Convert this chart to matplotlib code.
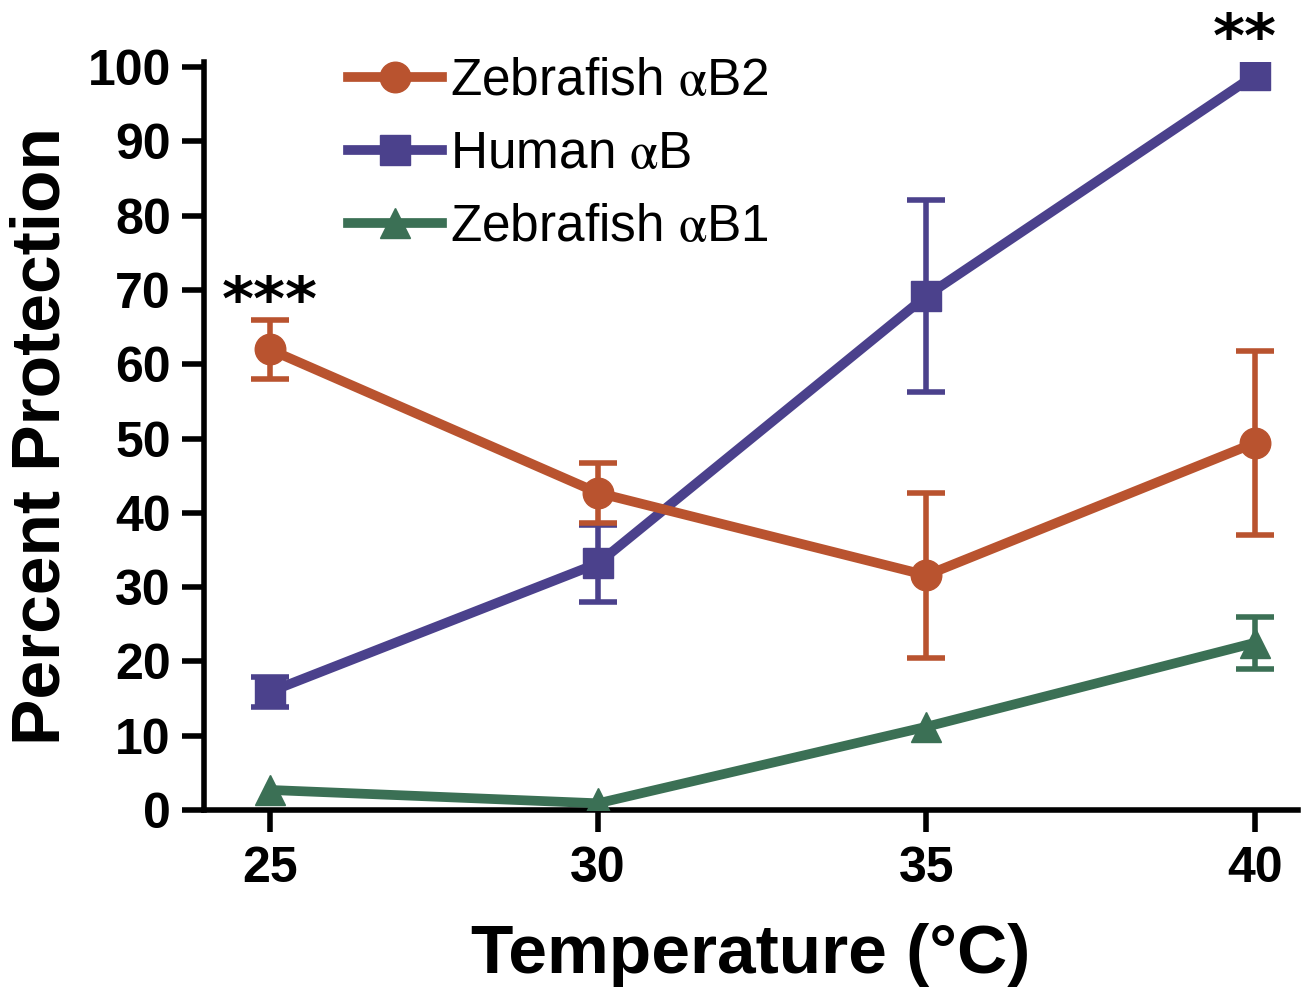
import numpy as np
import matplotlib.pyplot as plt
from matplotlib.lines import Line2D

plt.rcParams['font.family'] = ['Liberation Sans', 'DejaVu Sans']
plt.rcParams['mathtext.fontset'] = 'stix'

temp = [25, 30, 35, 40]

zf_b2 = [62.0, 42.7, 31.6, 49.4]
zf_b2_err = [4.0, 4.0, 11.1, 12.4]

human_b = [15.9, 33.2, 69.2, 98.9]
human_b_err = [2.0, 5.2, 12.9, np.nan]

zf_b1 = [2.7, 0.9, 11.2, 22.5]
zf_b1_err = [np.nan, np.nan, np.nan, 3.5]

c_b2 = '#b9532f'
c_hum = '#4b418c'
c_b1 = '#3b7055'

fig = plt.figure(figsize=(13.15, 9.9), dpi=100)
ax = fig.add_axes([204/1315, 180/990, (1298-204)/1315, (810-62)/990])

series = [
    (zf_b1, zf_b1_err, c_b1, '^', 21, r'Zebrafish $\mathrm{\alpha}$B1', 3),
    (human_b, human_b_err, c_hum, 's', 22, r'Human $\mathrm{\alpha}$B', 4),
    (zf_b2, zf_b2_err, c_b2, 'o', 22, r'Zebrafish $\mathrm{\alpha}$B2', 5),
]
handles = {}
for y, err, c, m, ms, lab, z in series:
    ax.errorbar(temp, y, yerr=err, fmt='none', ecolor=c, elinewidth=4,
                capsize=14, capthick=4, zorder=z)
    ax.plot(temp, y, color=c, lw=7, marker=m, ms=ms, zorder=z)
    handles[lab] = Line2D([], [], color=c, lw=7, marker=m, ms=ms)

# significance stars
ax.text(25, 68.2, '***', ha='center', va='center', fontsize=44,
        family='DejaVu Sans', fontweight='bold')
ax.text(39.85, 103.6, '**', ha='center', va='center', fontsize=44,
        family='DejaVu Sans', fontweight='bold', clip_on=False)

ax.set_xlim(24.0, 40.66)
ax.set_ylim(0, 100.7)
ax.set_xticks(temp)
ax.set_yticks(np.arange(0, 101, 10))

for s in ['top', 'right']:
    ax.spines[s].set_visible(False)
for s in ['left', 'bottom']:
    ax.spines[s].set_linewidth(4)

ax.tick_params(axis='both', direction='out', length=16, width=4, labelsize=36)
ax.tick_params(axis='y', pad=8)
ax.tick_params(axis='x', pad=10)
for lab in ax.get_xticklabels() + ax.get_yticklabels():
    lab.set_fontweight('bold')

ax.set_ylabel('Percent Protection', fontsize=50, fontweight='bold', labelpad=10)
ax.set_xlabel('Temperature (°C)', fontsize=50, fontweight='bold', labelpad=22)

labels = [r'Zebrafish $\mathrm{\alpha}$B2', r'Human $\mathrm{\alpha}$B',
          r'Zebrafish $\mathrm{\alpha}$B1']
ax.legend([handles[k] for k in labels], labels, loc='upper left',
          bbox_to_anchor=(348/1315, 1 - 57/990), bbox_transform=fig.transFigure,
          frameon=False, fontsize=37, handlelength=1.83, handletextpad=0.15,
          labelspacing=0.47, borderpad=0, borderaxespad=0)

fig.savefig('out.png', dpi=100)
